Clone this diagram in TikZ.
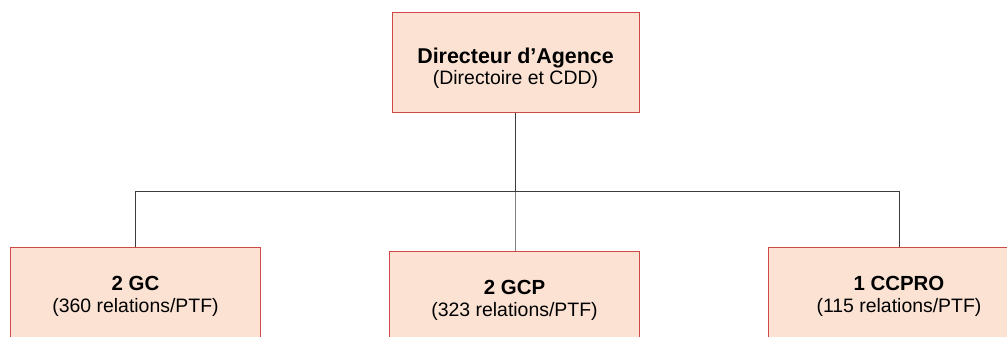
\documentclass[tikz,border=0pt]{standalone}
\usepackage{fontspec}
\setmainfont{Liberation Sans}
\definecolor{boxfill}{RGB}{251,226,211}
\definecolor{boxline}{RGB}{208,72,72}
\definecolor{linkgray}{RGB}{60,60,60}
\tikzset{unit/.style={draw=boxline, fill=boxfill, line width=1bp, minimum width=250bp, minimum height=99bp, inner sep=0pt, align=center, font=\fontsize{19.5}{22}\selectfont}}
\tikzset{link/.style={draw=linkgray, line width=1bp}}
\newcommand{\unitname}[1]{{\fontsize{20.5}{22}\selectfont\bfseries #1}}

\begin{document}
\begin{tikzpicture}[x=1bp,y=1bp]
\clip (0,0) rectangle (1007,336);
\fill [white] (0,0) rectangle (1007,336);
\node [unit, minimum width=247bp] (dir) at (515.5,273.5) {\rule{0pt}{27bp}{\fontsize{21.5}{22}\selectfont\bfseries Directeur d'Agence}\\(Directoire et CDD)};
\node [unit] (gc) at (135.5,39.5) {\unitname{2 GC}\\(360 relations/PTF)};
\node [unit] (gcp) at (514.5,35.5) {\unitname{2 GCP}\\(323 relations/PTF)};
\node [unit, minimum width=262bp] (ccpro) at (899,39.5) {\unitname{1 CCPRO}\\(115 relations/PTF)};
\draw [link] (dir.south) -- ++(0,-79) coordinate (hub);
\draw [link] (hub) -| (gc.north);
\draw [link] (hub) -| (ccpro.north);
\draw [link, draw=gray] (hub) -- (hub |- gcp.north);
\end{tikzpicture}
\end{document}
